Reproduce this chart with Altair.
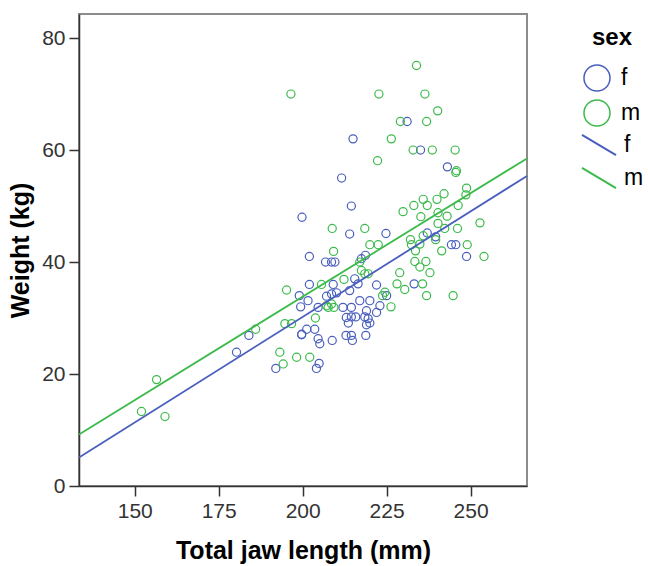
import altair as alt
import pandas as pd

# ---- data ----
f_x = [180.3, 184, 192, 199, 199.4, 199.7, 201.2, 202, 202, 199.8, 215, 211.6, 214.5, 214,
       206.8, 208.6, 209.6, 209.1, 201.6, 204.6, 207.1, 208.6, 210.1, 212, 213, 213.6,
       203.6, 199.7, 204.6, 205.1, 208.8, 212.9, 204.1, 204.9, 231.1, 235.1, 243.1, 224.8,
       237.1, 239.6, 218.7, 217.5, 244.3, 245.6, 248.8, 233.2, 225, 222, 215.5, 214, 216.5,
       214.5, 217, 220, 223, 222, 219, 218.5, 219.5, 214.5, 215.8, 219, 220, 214.5, 214.8,
       218.8]
f_y = [23.9, 26.9, 21, 34, 32, 27, 28, 41, 36, 48, 62, 55, 50, 45,
       40, 40, 40, 36, 33.1, 31.9, 33.9, 34.3, 34.5, 31.9, 30.1, 29.1,
       28, 27.1, 26.3, 25.4, 26, 26.9, 21, 21.9, 65.1, 60, 57, 45.1,
       45.2, 44.5, 41.2, 40.6, 43.1, 43.1, 41, 36.1, 34, 35.9, 37, 34.9, 36.1,
       31.9, 33.1, 33.1, 32.2, 31, 31.3, 30.2, 29.9, 30.2, 30.2, 28.8, 29.1, 26.9, 26,
       26.9]

m_x = [152, 156.5, 159, 186, 193.2, 194.2, 198.2, 202.1, 195.2, 194.7, 196.7, 196.5, 208.8,
       209.2, 212.3, 205.6, 207.6, 209.3, 203.8, 233.9, 222.7, 236.4, 240.2, 229.1, 236.9,
       226.4, 232.9, 238.6, 245.4, 222.3, 245.6, 245.8, 248.8, 248.6, 242.1, 235.9, 240,
       233.1, 237.1, 246.3, 229.9, 235.2, 240.3, 243, 252.8, 240.3, 218.5, 246.1, 242.3,
       235.9, 232.1, 239.6, 220, 222.5, 232.4, 234.9, 233.6, 241.4, 249, 254, 233.4, 236.7,
       234.9, 228.9, 237.9, 228.1, 230.4, 235.7, 236.9, 244.8, 223.8, 224.5, 226.3, 217,
       217.5, 218.5, 219.5, 207.1, 208.6]
m_y = [13.3, 19, 12.4, 28, 23.9, 21.8, 23, 23, 35, 29, 29, 70, 46,
       41.9, 36.9, 36, 31.9, 31.9, 30, 75.1, 70, 70, 67, 65.1, 65.1,
       62, 60, 60, 60, 58.1, 56, 56.3, 53.2, 52, 52.2, 51.2, 51.2,
       50.1, 50.1, 50.1, 49, 48.1, 48.8, 48.2, 47, 46.9, 46, 46, 46,
       44.7, 44, 44, 43.1, 43.1, 43.1, 43.2, 42, 42, 43.1, 41, 40.1, 40.1,
       39.1, 38.1, 38.1, 36.1, 35.1, 36.1, 34, 34, 34, 34.6, 32, 40,
       38.5, 37.9, 37.9, 32.2, 32.5]

# fitted line coefficients (intercept, slope) per sex
fit_sex = ["f", "m"]
fit_intercept = [-45.2, -40.1]
fit_slope = [0.377, 0.3696]

x_dom = [133.4, 266.8]
y_dom = [0, 84.3]

sexes = ["f", "m"]
colors = ["#4a5fbd", "#3dba4c"]

pts = pd.DataFrame({
    "x": f_x + m_x,
    "y": f_y + m_y,
    "sex": ["f"] * len(f_x) + ["m"] * len(m_x),
})

rows = []
for s, a, b in zip(fit_sex, fit_intercept, fit_slope):
    for xv in x_dom:
        rows.append({"x": xv, "y": a + b * xv, "sexl": s})
lines = pd.DataFrame(rows)

FONT = "Liberation Sans"

xenc = alt.X("x:Q", scale=alt.Scale(domain=x_dom, nice=False, zero=False),
             axis=alt.Axis(values=[150, 175, 200, 225, 250], title="Total jaw length (mm)",
                           titlePadding=17))
yenc = alt.Y("y:Q", scale=alt.Scale(domain=y_dom, nice=False),
             axis=alt.Axis(values=[0, 20, 40, 60, 80], title="Weight (kg)", titlePadding=8))

points = alt.Chart(pts).mark_point(shape="circle", filled=False, size=66, strokeWidth=1.2,
                                   opacity=1).encode(
    x=xenc, y=yenc,
    color=alt.Color("sex:N", scale=alt.Scale(domain=sexes, range=colors),
                    legend=alt.Legend(title="sex", orient="none", legendX=504, legendY=12,
                                      symbolType="circle", symbolSize=680,
                                      symbolStrokeWidth=1.5, titleAnchor="middle",
                                      titlePadding=14, rowPadding=1, labelOffset=10,
                                      padding=0)),
)

reg = alt.Chart(lines).mark_line(strokeWidth=1.8).encode(
    x="x:Q", y="y:Q",
    color=alt.Color("sexl:N", scale=alt.Scale(domain=sexes, range=colors),
                    legend=alt.Legend(title=None, orient="none", legendX=502, legendY=113,
                                      symbolType="M-1,-0.6L1,0.6", symbolSize=1156,
                                      symbolStrokeWidth=2, rowPadding=0, labelOffset=7,
                                      padding=0)),
)

chart = alt.layer(points, reg).resolve_scale(color="independent").properties(
    width=448, height=472,
    autosize=alt.AutoSizeParams(type="none"),
    padding={"left": 79, "top": 14, "right": 121, "bottom": 80},
).configure_view(
    stroke="#8c8c8c", strokeWidth=2
).configure_axis(
    grid=False, labelFont=FONT, titleFont=FONT, labelFontSize=21, titleFontSize=25,
    titleFontWeight="bold", labelColor="#333333", titleColor="#000000",
    domainColor="#333333", domainWidth=1.5, tickColor="#333333", tickWidth=1.5,
    tickSize=10, labelPadding=4,
).configure_legend(
    labelFont=FONT, titleFont=FONT, labelFontSize=23, titleFontSize=24,
    titleFontWeight="bold", labelColor="#000000", titleColor="#000000",
)

chart.save("out.html", embed_options={"renderer": "svg", "actions": False})
